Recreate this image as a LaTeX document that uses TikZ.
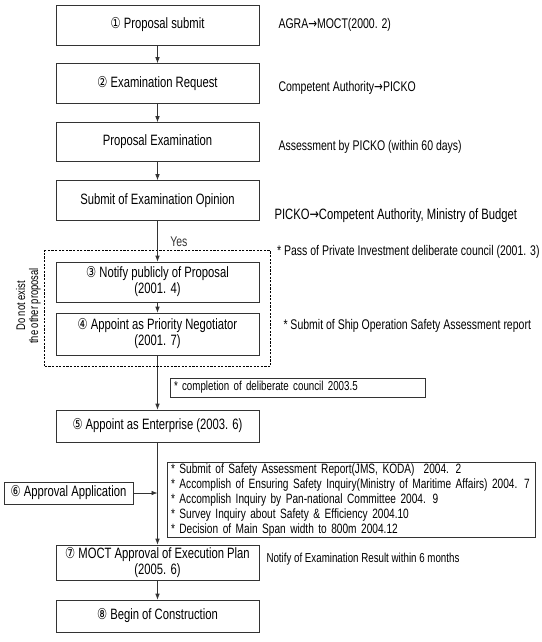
\documentclass[tikz,border=0pt]{standalone}
\usepackage{fontspec}
\setmainfont[FakeStretch=0.75]{Liberation Sans}
\newfontfamily\glyphfont[FakeStretch=0.75]{DejaVu Sans}
\usetikzlibrary{arrows.meta, chains, positioning, fit}

\newcommand{\cnum}[1]{{\glyphfont\fontsize{15}{15}\selectfont #1}}
\newcommand{\boxfont}{\fontsize{15}{16}\selectfont}
\newcommand{\notefont}{\fontsize{14}{15}\selectfont}

\tikzset{%
  >={Latex[width=4.5pt,length=6pt]},
  % Specifications for style of nodes:
  base/.style = {draw=black!80, line width=0.6pt, on grid, on chain, align=center,
                 font=\boxfont, inner sep=2pt},
  stepbox/.style = {base, minimum width=203pt, minimum height=40pt},
  sidebox/.style = {draw=black!80, line width=0.6pt, align=left, font=\notefont,
                    inner xsep=4pt, inner ysep=1pt},
  note/.style = {inner sep=0pt, font=\notefont},
  vtext/.style = {inner sep=0pt, align=center, rotate=90,
                  font=\fontsize{12.5}{13}\selectfont},
  group/.style = {draw, line width=1.3pt, dash pattern=on 2.2pt off 1.4pt, inner sep=11pt},
  norm/.style = {->, draw, black!80, line width=0.6pt},
}

\begin{document}
\begin{tikzpicture}[
  x=1pt, y=-1pt,
  start chain=going below,      % main flow is top-to-bottom
  node distance=58.5pt and 19pt,
  every join/.style={norm},
]
  \useasboundingbox (0,0) rectangle (541,642);

  % main flow
  \node (s1) [stepbox] at (157.5,25) {\cnum{①} Proposal submit};
  \node (s2) [stepbox, join] {\cnum{②} Examination Request};
  \node (s3) [stepbox, join, minimum height=39pt] {Proposal Examination};
  \node (s4) [stepbox, join] {Submit of Examination Opinion};
  \node (n3) [stepbox, below=81.5pt of s4] {\cnum{③} Notify publicly of Proposal\\(2001. 4)};
  \node (n4) [stepbox, join, below=52pt of n3, minimum height=42pt] {\cnum{④} Appoint as Priority Negotiator\\(2001. 7)};
  \node (e5) [stepbox, join, below=92pt of n4, minimum height=32pt] {\cnum{⑤} Appoint as Enterprise (2003. 6)};
  \node (m7) [stepbox, join, below=136.5pt of e5, minimum height=35pt] {\cnum{⑦} MOCT Approval of Execution Plan\\(2005. 6)};
  \node (b8) [stepbox, join, below=53.5pt of m7, minimum height=32pt] {\cnum{⑧} Begin of Construction};

  % dashed group and its side text
  \node (grp) [group, fit=(n3)(n4)] {};
  \node (other) [vtext] at (28.5,306) {Do not exist\\the other proposal};

  % boxes beside the flow
  \node (cmpl) [sidebox, text width=247pt, minimum height=19pt,
                font=\fontsize{13}{15}\selectfont] at (297.5,387.5) {* completion of deliberate council 2003.5};
  \node (rpt) [sidebox, text width=360pt, font=\fontsize{13.5}{15}\selectfont] at (351,500)
    {{*} Submit of Safety Assessment Report(JMS, KODA)\ \ 2004. 2\\
     {*} Accomplish of Ensuring Safety Inquiry(Ministry of Maritime Affairs) 2004. 7\\
     {*} Accomplish Inquiry by Pan-national Committee 2004. 9\\
     {*} Survey Inquiry about Safety \& Efficiency 2004.10\\
     {*} Decision of Main Span width to 800m 2004.12};
  \node (appl) [sidebox, align=center, font=\boxfont, minimum width=129pt,
                minimum height=22pt] at (68.5,493) {\cnum{⑥} Approval Application};

  % notes on the right
  \node (t1) [note, right=19pt of s1] {AGRA{\glyphfont →}MOCT(2000. 2)};
  \node (t2) [note, right=19pt of s2, yshift=-4.5pt] {Competent Authority{\glyphfont →}PICKO};
  \node (t3) [note, right=19pt of s3, yshift=-5pt] {Assessment by PICKO (within 60 days)};
  \node (t4) [note, right=15pt of s4, yshift=-15pt, font=\boxfont] {PICKO{\glyphfont →}Competent Authority, Ministry of Budget};
  \node (t5) [note, right=6pt of grp.north east, yshift=-2pt] {* Pass of Private Investment deliberate council (2001. 3)};
  \node (t6) [note, right=24pt of n4, yshift=8pt] {* Submit of Ship Operation Safety Assessment report};
  \node (t7) [note, right=7pt of m7, yshift=3pt, font=\fontsize{13}{15}\selectfont] {Notify of Examination Result within 6 months};

  % connectors
  \draw [norm] (s4) -- node [note, right=12.5pt] {Yes} (n3);
  \coordinate (c1) at (e5 |- appl);
  \draw [norm] (appl) -- (c1);

\end{tikzpicture}
\end{document}
